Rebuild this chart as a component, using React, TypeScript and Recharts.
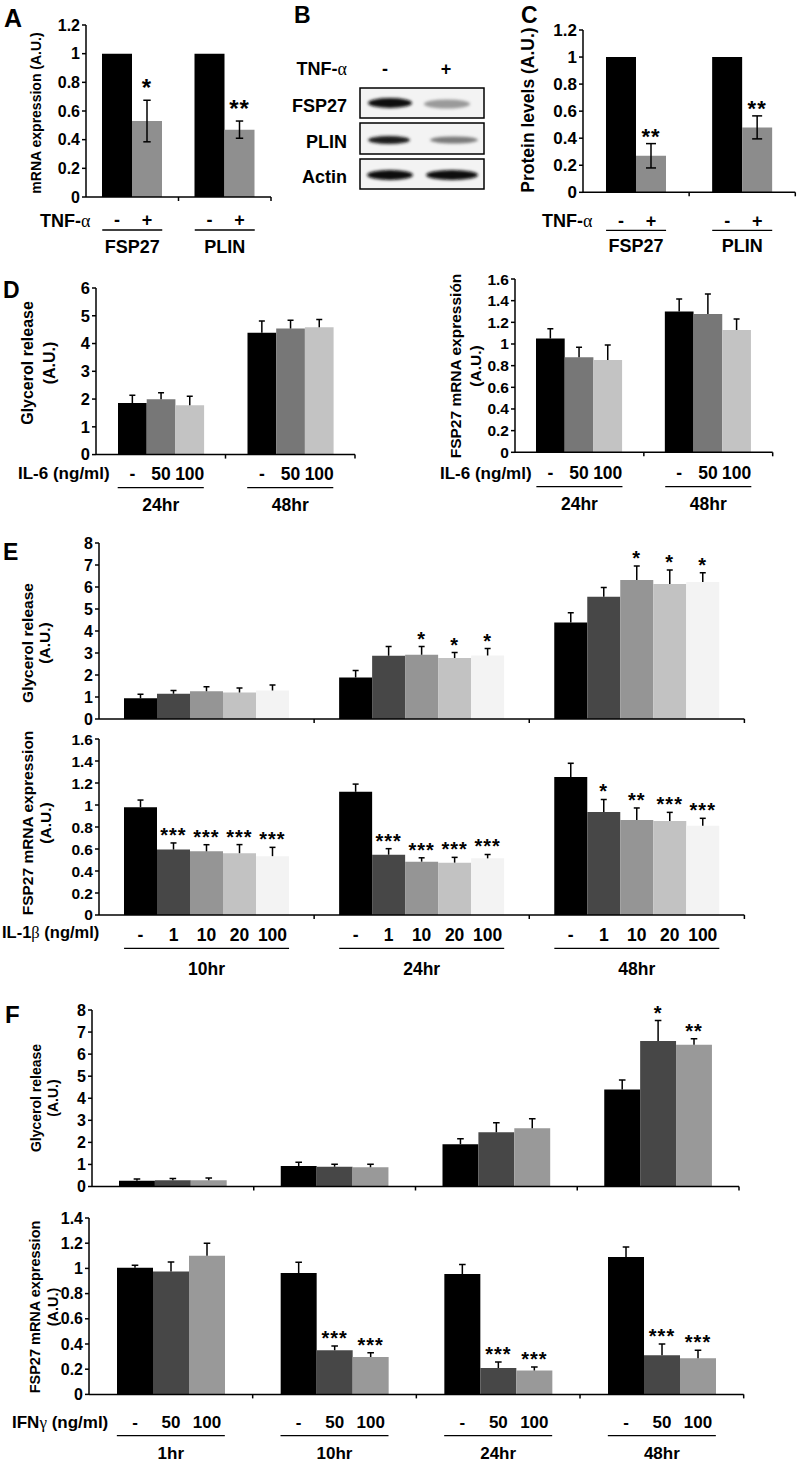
import React from "react";
import { BarChart, Bar, XAxis, YAxis, ErrorBar, LabelList } from "recharts";

const FONT = "'Liberation Sans', Arial, Helvetica, sans-serif";
const GREEK = "'Liberation Serif', 'DejaVu Serif', serif";

// A / C : TNF-alpha
const genes = ["FSP27", "PLIN"];
const mrnaCtrl = [1, 1];
const mrnaTnf = [0.53, 0.47];
const mrnaTnfErr = [0.145, 0.06];
const mrnaTnfSig = ["*", "**"];
const protCtrl = [1, 1];
const protTnf = [0.27, 0.48];
const protTnfErr = [0.09, 0.085];
const protTnfSig = ["**", "**"];

// D : IL-6
const il6Times = ["24hr", "48hr"];
const il6Doses = ["-", "50", "100"];
const il6Glyc0 = [1.86, 4.39];
const il6Glyc0Err = [0.28, 0.42];
const il6Glyc50 = [1.99, 4.54];
const il6Glyc50Err = [0.24, 0.3];
const il6Glyc100 = [1.78, 4.59];
const il6Glyc100Err = [0.32, 0.28];
const il6Fsp0 = [1.05, 1.3];
const il6Fsp0Err = [0.09, 0.115];
const il6Fsp50 = [0.877, 1.277];
const il6Fsp50Err = [0.093, 0.185];
const il6Fsp100 = [0.852, 1.13];
const il6Fsp100Err = [0.138, 0.1];

// E : IL-1beta
const il1Times = ["10hr", "24hr", "48hr"];
const il1Doses = ["-", "1", "10", "20", "100"];
const il1Glyc = [
  [0.94, 1.89, 4.39],
  [1.15, 2.88, 5.56],
  [1.26, 2.92, 6.32],
  [1.2, 2.77, 6.14],
  [1.29, 2.89, 6.23],
];
const il1GlycErr = [
  [0.18, 0.31, 0.44],
  [0.14, 0.41, 0.42],
  [0.21, 0.37, 0.63],
  [0.21, 0.25, 0.63],
  [0.26, 0.31, 0.42],
];
const il1GlycSig = [
  ["", "", ""],
  ["", "", ""],
  ["", "*", "*"],
  ["", "*", "*"],
  ["", "*", "*"],
];
const il1Fsp = [
  [0.98, 1.12, 1.255],
  [0.595, 0.548, 0.936],
  [0.579, 0.485, 0.864],
  [0.562, 0.476, 0.855],
  [0.535, 0.515, 0.812],
];
const il1FspErr = [
  [0.065, 0.07, 0.124],
  [0.06, 0.055, 0.114],
  [0.06, 0.035, 0.109],
  [0.078, 0.048, 0.078],
  [0.08, 0.035, 0.067],
];
const il1FspSig = [
  ["", "", ""],
  ["***", "***", "*"],
  ["***", "***", "**"],
  ["***", "***", "***"],
  ["***", "***", "***"],
];

// F : IFN-gamma
const ifnTimes = ["1hr", "10hr", "24hr", "48hr"];
const ifnDoses = ["-", "50", "100"];
const ifnGlyc = [
  [0.26, 0.93, 1.92, 4.4],
  [0.28, 0.89, 2.46, 6.6],
  [0.28, 0.87, 2.64, 6.43],
];
const ifnGlycErr = [
  [0.08, 0.17, 0.24, 0.43],
  [0.08, 0.12, 0.43, 0.92],
  [0.1, 0.14, 0.43, 0.27],
];
const ifnGlycSig = [
  ["", "", "", ""],
  ["", "", "", "*"],
  ["", "", "", "**"],
];
const ifnFsp = [
  [1.005, 0.963, 0.955, 1.09],
  [0.975, 0.35, 0.21, 0.31],
  [1.1, 0.296, 0.19, 0.286],
];
const ifnFspErr = [
  [0.02, 0.085, 0.075, 0.08],
  [0.075, 0.034, 0.047, 0.09],
  [0.1, 0.034, 0.027, 0.064],
];
const ifnFspSig = [
  ["", "", "", ""],
  ["", "***", "***", "***"],
  ["", "***", "***", "***"],
];

const grays3 = ["#000000", "#777777", "#c3c3c3"];
const grays5 = ["#000000", "#474747", "#959595", "#c2c2c2", "#f3f3f3"];
const graysF = ["#000000", "#474747", "#999999"];

type Series = { dose: string; color: string; values: number[]; errors?: number[]; sig?: string[] };

type Labels = { dose: number; line: number; cat: number; font: number };

type PanelProps = {
  box: number[];
  categories: string[];
  series: Series[];
  yMax: number;
  yTicks: number[];
  barSize: number;
  errMode: "sym" | "up";
  tickFont: number;
  capHalf: number;
  sigFont?: number;
  sigOffset?: number;
  labels?: Labels;
};

const YW = 60;
const MT = 14;
const MR = 6;

function Panel(props: PanelProps) {
  const { box, categories, series, yMax, yTicks, barSize, errMode, tickFont, capHalf, labels } = props;
  const sigFont = props.sigFont ?? 18;
  const sigOffset = props.sigOffset ?? 0;
  const [l, t, r, b] = box;
  const plotW = r - l;
  const plotH = b - t;
  const mb = labels ? labels.cat + 6 : 10;
  const width = YW + plotW + MR;
  const height = MT + plotH + mb;
  const catW = plotW / categories.length;
  const groupW = barSize * series.length;

  const rows = categories.map((cat, i) => {
    const row: Record<string, any> = { cat };
    series.forEach((s, k) => {
      row[`v${k}`] = s.values[i];
      if (s.errors) row[`e${k}`] = s.errors[i];
      row[`s${k}`] = s.sig ? s.sig[i] : "";
      row[`d${k}`] = s.dose;
    });
    return row;
  });

  const renderTick = (p: any) => {
    const { x, y, payload } = p;
    return (
      <g>
        <line x1={x + catW / 2} x2={x + catW / 2} y1={y} y2={y + 4} stroke="#000" strokeWidth={1.5} />
        {labels ? (
          <g>
            <line x1={x - groupW / 2} x2={x + groupW / 2} y1={y + labels.line} y2={y + labels.line} stroke="#000" strokeWidth={1.3} />
            <text x={x} y={y + labels.cat} textAnchor="middle" fontSize={labels.font} fontWeight={700} fontFamily={FONT} fill="#000">
              {payload.value}
            </text>
          </g>
        ) : null}
      </g>
    );
  };

  const tShape = (p: any) => {
    const cx = p.x + p.width / 2;
    if (errMode === "sym") return <g />;
    return (
      <g>
        <line x1={cx} x2={cx} y1={p.y} y2={p.y + p.height} stroke="#000" strokeWidth={1.5} />
        <line x1={cx - capHalf} x2={cx + capHalf} y1={p.y} y2={p.y} stroke="#000" strokeWidth={1.5} />
      </g>
    );
  };

  return (
    <div style={{ position: "absolute", left: l - YW, top: t - MT }}>
      <BarChart width={width} height={height} data={rows} margin={{ top: MT, right: MR, bottom: 0, left: 0 }} barGap={0} barSize={barSize}>
        <XAxis
          dataKey="cat"
          height={mb}
          interval={0}
          tickLine={false}
          tickSize={0}
          tickMargin={0}
          axisLine={{ stroke: "#000", strokeWidth: 1.5 }}
          tick={renderTick}
        />
        <YAxis
          width={YW}
          domain={[0, yMax]}
          ticks={yTicks}
          interval={0}
          allowDataOverflow
          tickSize={4}
          tickMargin={2}
          axisLine={{ stroke: "#000", strokeWidth: 1.5 }}
          tickLine={{ stroke: "#000", strokeWidth: 1.5 }}
          tick={{ fontSize: tickFont, fontWeight: 700, fill: "#000", fontFamily: FONT }}
        />
        {series.map((s, k) => (
          <Bar key={`v${k}`} dataKey={`v${k}`} stackId={`g${k}`} fill={s.color} isAnimationActive={false}>
            {errMode === "sym" && s.errors ? (
              <ErrorBar dataKey={`e${k}`} width={capHalf} stroke="#000" strokeWidth={1.5} direction="y" />
            ) : null}
            {labels ? (
              <LabelList
                dataKey={`d${k}`}
                position="bottom"
                offset={labels.dose}
                fill="#000"
                fontSize={labels.font}
                fontWeight={700}
                fontFamily={FONT}
              />
            ) : null}
          </Bar>
        ))}
        {series.map((s, k) =>
          s.errors ? (
            <Bar key={`e${k}`} dataKey={`e${k}`} stackId={`g${k}`} fill="transparent" isAnimationActive={false} shape={tShape}>
              {s.sig ? (
                <LabelList
                  dataKey={`s${k}`}
                  position="top"
                  offset={sigOffset}
                  fill="#000"
                  fontSize={sigFont}
                  fontWeight={700}
                  fontFamily={FONT}
                  style={{ letterSpacing: 1 }}
                />
              ) : null}
            </Bar>
          ) : null
        )}
      </BarChart>
    </div>
  );
}

const T = (p: { x: number; y: number; size: number; anchor?: string; children: React.ReactNode }) => (
  <text x={p.x} y={p.y} fontSize={p.size} fontWeight={700} fontFamily={FONT} textAnchor={p.anchor ?? "start"} fill="#000">
    {p.children}
  </text>
);

const VT = (p: { cx: number; cy: number; size: number; children: React.ReactNode }) => (
  <text
    transform={`translate(${p.cx},${p.cy}) rotate(-90)`}
    fontSize={p.size}
    fontWeight={700}
    fontFamily={FONT}
    textAnchor="middle"
    dominantBaseline="central"
    fill="#000"
  >
    {p.children}
  </text>
);

const Gk = ({ c }: { c: string }) => (
  <tspan fontFamily={GREEK} fontWeight={400}>
    {c}
  </tspan>
);

function Overlay() {
  return (
    <svg width={797} height={1464} style={{ position: "absolute", left: 0, top: 0, pointerEvents: "none" }}>
      <defs>
        <filter id="bl" x="-50%" y="-100%" width="200%" height="300%">
          <feGaussianBlur stdDeviation="1.6" />
        </filter>
      </defs>
      {/* panel letters */}
      <T x={4} y={27} size={25}>A</T>
      <T x={294} y={23} size={23}>B</T>
      <T x={521} y={23} size={23}>C</T>
      <T x={3} y={298} size={23}>D</T>
      <T x={3} y={560} size={23}>E</T>
      <T x={5} y={1023} size={24}>F</T>

      {/* A */}
      <VT cx={36} cy={113} size={14}>mRNA expression (A.U.)</VT>
      <T x={40} y={227} size={18}>TNF-<Gk c="α" /></T>
      {/* B western blot */}
      <T x={347} y={75} size={18} anchor="end">TNF-<Gk c="α" /></T>
      <T x={385} y={75} size={18} anchor="middle">-</T>
      <T x={446} y={75} size={18} anchor="middle">+</T>
      <T x={347} y={112} size={18} anchor="end">FSP27</T>
      <T x={347} y={148} size={18} anchor="end">PLIN</T>
      <T x={347} y={183} size={18} anchor="end">Actin</T>
      <rect x={360} y={88} width={124} height={30} fill="#f3f3f3" stroke="#000" strokeWidth={1.5} />
      <rect x={360} y={123} width={124} height={31} fill="#f3f3f3" stroke="#000" strokeWidth={1.5} />
      <rect x={360} y={159} width={124} height={30} fill="#f3f3f3" stroke="#000" strokeWidth={1.5} />
      <ellipse cx={390} cy={103} rx={22} ry={5} fill="#111" filter="url(#bl)" />
      <ellipse cx={447} cy={104} rx={23} ry={4.5} fill="#9a9a9a" filter="url(#bl)" />
      <ellipse cx={389} cy={140} rx={21} ry={4} fill="#1a1a1a" filter="url(#bl)" />
      <ellipse cx={454} cy={140} rx={24} ry={3.5} fill="#7a7a7a" filter="url(#bl)" />
      <ellipse cx={390} cy={175} rx={23} ry={5} fill="#0a0a0a" filter="url(#bl)" />
      <ellipse cx={452} cy={175} rx={26} ry={5} fill="#0a0a0a" filter="url(#bl)" />
      {/* C */}
      <VT cx={528} cy={110} size={17.5}>Protein levels (A.U.)</VT>
      <T x={542} y={227} size={18}>TNF-<Gk c="α" /></T>

      {/* D */}
      <VT cx={27} cy={363} size={16}>Glycerol release</VT>
      <VT cx={49} cy={363} size={16}>(A.U.)</VT>
      <T x={18} y={479} size={17}>IL-6 (ng/ml)</T>
      <VT cx={455} cy={366} size={15.5}>FSP27 mRNA expressión</VT>
      <VT cx={475} cy={366} size={15.5}>(A.U.)</VT>
      <T x={440} y={479} size={17}>IL-6 (ng/ml)</T>

      {/* E */}
      <VT cx={27} cy={643} size={15.5}>Glycerol release</VT>
      <VT cx={44} cy={643} size={15.5}>(A.U.)</VT>
      <VT cx={27} cy={823} size={15.5}>FSP27 mRNA expression</VT>
      <VT cx={45} cy={823} size={15.5}>(A.U.)</VT>
      <T x={2} y={938} size={16.5}>IL-1<Gk c="β" /> (ng/ml)</T>

      {/* F */}
      <VT cx={36} cy={1098} size={14}>Glycerol release</VT>
      <VT cx={53} cy={1098} size={14}>(A.U.)</VT>
      <VT cx={35} cy={1307} size={14.5}>FSP27 mRNA expression</VT>
      <VT cx={53} cy={1307} size={14.5}>(A.U.)</VT>
      <T x={12} y={1428} size={17}>IFN<Gk c="γ" /> (ng/ml)</T>
    </svg>
  );
}

const mk = (doses: string[], colors: string[], vals: number[][], errs: number[][], sigs?: string[][]): Series[] =>
  doses.map((d, k) => ({ dose: d, color: colors[k], values: vals[k], errors: errs[k], sig: sigs ? sigs[k] : undefined }));

export default function App() {
  const tick12 = [0, 0.2, 0.4, 0.6, 0.8, 1, 1.2];
  const tick14 = [0, 0.2, 0.4, 0.6, 0.8, 1, 1.2, 1.4];
  const tick16 = [0, 0.2, 0.4, 0.6, 0.8, 1, 1.2, 1.4, 1.6];
  return (
    <div style={{ position: "absolute", left: 0, top: 0, width: 797, height: 1464, background: "#fff", overflow: "hidden" }}>
      <Panel
        box={[86, 25, 271, 197]}
        categories={genes}
        series={[
          { dose: "-", color: "#000", values: mrnaCtrl },
          { dose: "+", color: "#8f8f8f", values: mrnaTnf, errors: mrnaTnfErr, sig: mrnaTnfSig },
        ]}
        yMax={1.2}
        yTicks={tick12}
        barSize={30}
        errMode="sym"
        tickFont={16}
        capHalf={3.7}
        sigFont={24}
        sigOffset={4}
        labels={{ dose: 16, line: 33, cat: 56, font: 18 }}
      />
      <Panel
        box={[582.7, 30, 795, 192.3]}
        categories={genes}
        series={[
          { dose: "-", color: "#000", values: protCtrl },
          { dose: "+", color: "#8c8c8c", values: protTnf, errors: protTnfErr, sig: protTnfSig },
        ]}
        yMax={1.2}
        yTicks={tick12}
        barSize={30}
        errMode="sym"
        tickFont={17}
        capHalf={5}
        sigFont={22}
        sigOffset={0}
        labels={{ dose: 22, line: 38, cat: 60, font: 18 }}
      />
      <Panel
        box={[96, 287.7, 355, 454.3]}
        categories={il6Times}
        series={mk(il6Doses, grays3, [il6Glyc0, il6Glyc50, il6Glyc100], [il6Glyc0Err, il6Glyc50Err, il6Glyc100Err])}
        yMax={6}
        yTicks={[0, 1, 2, 3, 4, 5, 6]}
        barSize={28.7}
        errMode="up"
        tickFont={16.5}
        capHalf={3}
        labels={{ dose: 12.5, line: 33, cat: 56, font: 17.5 }}
      />
      <Panel
        box={[515, 279, 772.7, 452.3]}
        categories={il6Times}
        series={mk(il6Doses, grays3, [il6Fsp0, il6Fsp50, il6Fsp100], [il6Fsp0Err, il6Fsp50Err, il6Fsp100Err])}
        yMax={1.6}
        yTicks={tick16}
        barSize={28.7}
        errMode="up"
        tickFont={15.5}
        capHalf={3}
        labels={{ dose: 14, line: 34.4, cat: 57.7, font: 17.5 }}
      />
      <Panel
        box={[99.3, 543, 744.7, 719]}
        categories={il1Times}
        series={mk(il1Doses, grays5, il1Glyc, il1GlycErr, il1GlycSig)}
        yMax={8}
        yTicks={[0, 1, 2, 3, 4, 5, 6, 7, 8]}
        barSize={33}
        errMode="up"
        tickFont={16}
        capHalf={3}
        sigFont={20}
        sigOffset={1}
      />
      <Panel
        box={[99.3, 739, 744.7, 915]}
        categories={il1Times}
        series={mk(il1Doses, grays5, il1Fsp, il1FspErr, il1FspSig)}
        yMax={1.6}
        yTicks={tick16}
        barSize={33}
        errMode="up"
        tickFont={15.5}
        capHalf={3}
        sigFont={20}
        sigOffset={1}
        labels={{ dose: 14, line: 33.3, cat: 60, font: 17.5 }}
      />
      <Panel
        box={[92, 1010, 739, 1186.5]}
        categories={ifnTimes}
        series={mk(ifnDoses, graysF, ifnGlyc, ifnGlycErr, ifnGlycSig)}
        yMax={8}
        yTicks={[0, 1, 2, 3, 4, 5, 6, 7, 8]}
        barSize={35.9}
        errMode="up"
        tickFont={16}
        capHalf={3.3}
        sigFont={20}
        sigOffset={1}
      />
      <Panel
        box={[89.3, 1218.3, 744, 1394.7]}
        categories={ifnTimes}
        series={mk(ifnDoses, graysF, ifnFsp, ifnFspErr, ifnFspSig)}
        yMax={1.4}
        yTicks={tick14}
        barSize={36}
        errMode="up"
        tickFont={16}
        capHalf={3.3}
        sigFont={20}
        sigOffset={1}
        labels={{ dose: 22, line: 41.3, cat: 64.5, font: 17 }}
      />
      <Overlay />
    </div>
  );
}
